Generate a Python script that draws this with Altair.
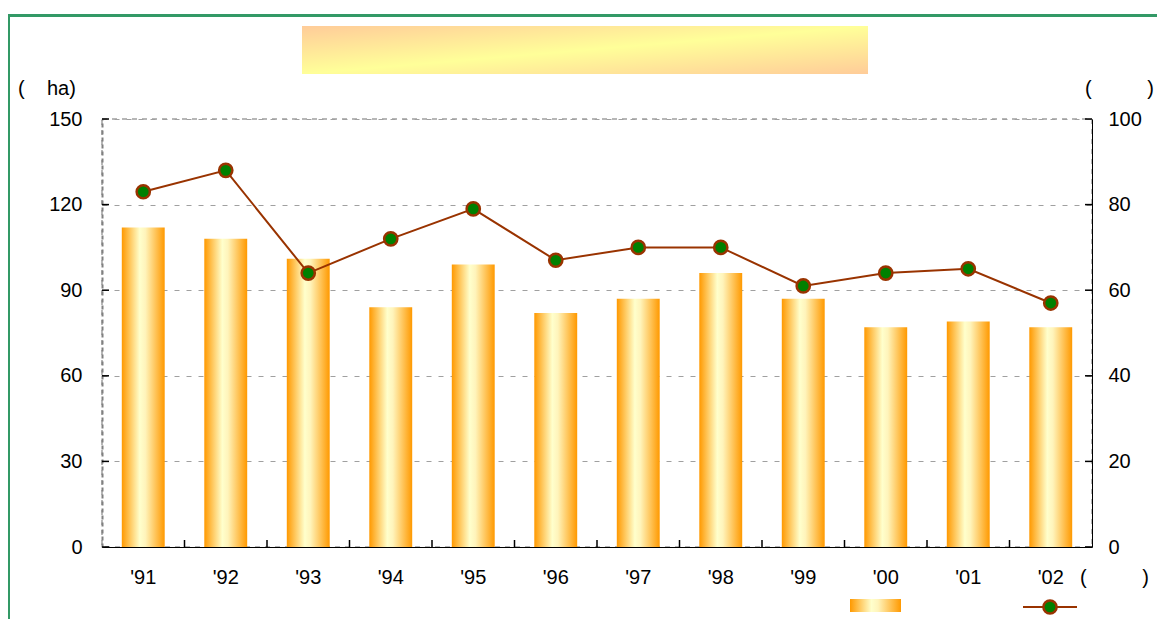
import altair as alt
import pandas as pd

years = ["'91", "'92", "'93", "'94", "'95", "'96", "'97", "'98", "'99", "'00", "'01", "'02"]
area_ha = [112, 108, 101, 84, 99, 82, 87, 96, 87, 77, 79, 77]
ratio = [83, 88, 64, 72, 79, 67, 70, 70, 61, 64, 65, 57]
left_ticks = [0, 30, 60, 90, 120, 150]
right_ticks = [0, 20, 40, 60, 80, 100]

W, H = 990, 428
FONT = "Liberation Sans"
FS = 20
NB = "\u00a0"

df = pd.DataFrame({"year": years, "area": area_ha, "ratio": ratio})
one = pd.DataFrame({"k": [0]})

xscale = alt.Scale(domain=years, paddingInner=0.48, paddingOuter=0.24)
xaxis = alt.Axis(title=None, labelAngle=0, tickSize=0, labelPadding=20,
                 domainColor="#000000", labelFont=FONT, labelFontSize=FS,
                 labelColor="#000000", grid=False)

bar_grad = {"gradient": "linear", "x1": 0, "x2": 1, "y1": 0, "y2": 0,
            "stops": [{"offset": 0, "color": "#FF9900"},
                      {"offset": 0.42, "color": "#FFFFCC"},
                      {"offset": 0.55, "color": "#FFF4BB"},
                      {"offset": 1, "color": "#FF9900"}]}

lscale = alt.Scale(domain=[0, 150], nice=False, zero=True)
rscale = alt.Scale(domain=[0, 100], nice=False, zero=True)

laxis = alt.Axis(title=None, orient="left", values=left_ticks, tickSize=0,
                 labelPadding=20, domainColor="#808080", domainDash=[4, 3],
                 domainWidth=2, grid=True, gridColor="#A0A0A0",
                 gridDash=[5, 7], labelFont=FONT, labelFontSize=FS,
                 labelColor="#000000")
raxis = alt.Axis(title=None, orient="right", values=right_ticks, tickSize=0,
                 labelPadding=16, domainColor="#000000", grid=False,
                 labelFont=FONT, labelFontSize=FS, labelColor="#000000")

bars = alt.Chart(df).mark_bar(fill=bar_grad).encode(
    x=alt.X("year:N", scale=xscale, sort=years, axis=xaxis),
    y=alt.Y("area:Q", scale=lscale, axis=laxis),
)

lticks = alt.Chart(pd.DataFrame({"area": left_ticks})).mark_rule(
    color="#000000", strokeWidth=1.5).encode(
    y=alt.Y("area:Q", scale=lscale, axis=laxis),
    x=alt.value(0), x2=alt.value(7),
)

left = alt.layer(bars, lticks)

line = alt.Chart(df).mark_line(color="#993300", strokeWidth=2).encode(
    x=alt.X("year:N", scale=xscale, sort=years, axis=xaxis),
    y=alt.Y("ratio:Q", scale=rscale, axis=raxis),
)
pts = alt.Chart(df).mark_point(filled=True, fill="#008000", stroke="#993300",
                               strokeWidth=2.5, size=175, opacity=1).encode(
    x=alt.X("year:N", scale=xscale, sort=years, axis=xaxis),
    y=alt.Y("ratio:Q", scale=rscale, axis=raxis),
)
rticks = alt.Chart(pd.DataFrame({"ratio": right_ticks})).mark_rule(
    color="#000000", strokeWidth=1.5).encode(
    y=alt.Y("ratio:Q", scale=rscale, axis=raxis),
    x=alt.value(W - 7), x2=alt.value(W),
)
right = alt.layer(line, pts, rticks)

xticks = alt.Chart(pd.DataFrame({"year": years[:-1]})).mark_rule(
    color="#000000", strokeWidth=1.5, xOffset=41.25).encode(
    x=alt.X("year:N", scale=xscale, sort=years, axis=xaxis),
    y=alt.value(H - 7), y2=alt.value(H),
)

# decorations
frame = alt.Chart(one).mark_rect(fill=None, stroke="#339966", strokeWidth=3).encode(
    x=alt.value(-93.5), x2=alt.value(1060), y=alt.value(-103.5), y2=alt.value(530))
title_grad = {"gradient": "linear", "x1": 0, "y1": 0, "x2": 1, "y2": 1,
              "stops": [{"offset": 0, "color": "#FFCC99"},
                        {"offset": 0.5, "color": "#FFFF99"},
                        {"offset": 1, "color": "#FFCC99"}]}
title_box = alt.Chart(one).mark_rect(fill=title_grad).encode(
    x=alt.value(200), x2=alt.value(766), y=alt.value(-93), y2=alt.value(-45))


def label(txt, x, y, align="left"):
    return alt.Chart(one).mark_text(font=FONT, fontSize=FS, align=align,
                                    baseline="middle", color="#000000").encode(
        x=alt.value(x), y=alt.value(y), text=alt.value(txt))


lunit = label("(" + NB * 4 + "ha)", -84, -30)
runit = label("(" + NB * 10 + ")", 983, -30)
xunit = label("(" + NB * 10 + ")", 978, H + 31)

leg_bar = alt.Chart(one).mark_rect(fill=bar_grad).encode(
    x=alt.value(748), x2=alt.value(799), y=alt.value(H + 52), y2=alt.value(H + 65))
leg_line = alt.Chart(one).mark_rule(color="#993300", strokeWidth=2).encode(
    x=alt.value(921), x2=alt.value(975), y=alt.value(H + 60))
leg_pt = alt.Chart(one).mark_point(filled=True, fill="#008000", stroke="#993300",
                                   strokeWidth=2.5, size=175, opacity=1).encode(
    x=alt.value(948), y=alt.value(H + 60))

chart = alt.layer(
    left, right, xticks, frame, title_box, lunit, runit, xunit,
    leg_bar, leg_line, leg_pt
).resolve_scale(y="independent").properties(
    width=W, height=H,
    padding={"left": 94, "top": 111, "right": 65, "bottom": 72},
    autosize=alt.AutoSizeParams(type="none"),
    background="#FFFFFF",
).configure_view(stroke="#A0A0A0", strokeDash=[5, 5], strokeWidth=1.5)

chart.save("out.html", embed_options={"renderer": "svg", "actions": False})
